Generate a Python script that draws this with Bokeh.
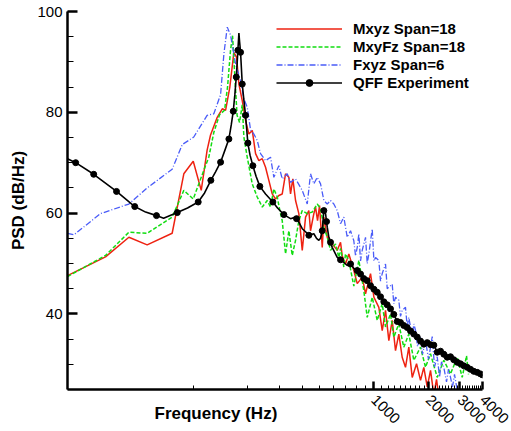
import numpy as np
from bokeh.plotting import figure
from bokeh.models import (Range1d, FixedTicker, Legend, LegendItem,
                          BasicTickFormatter, Title)
from bokeh.embed import file_html
from bokeh.resources import INLINE

# ---------------- data ----------------
mxyz_f = [20, 32.5, 43.8, 55.3, 76.1, 88.3, 99.6, 110.3, 118.9, 124.2, 135.3, 144.3,
          150.5, 158.9, 167.3, 173.2, 178.4, 186.2, 194.2, 202.6, 211.6, 220.7, 230.2,
          240.4, 250.7, 261.5, 273.1, 284.8, 297.1, 310.2, 323.6, 337.6, 344.9, 355.2,
          367.7, 383.5, 400.5, 417.8, 435.8, 445.2, 464.4, 474.6, 486.9, 499.5, 517.0,
          527.7, 551.1, 587.3, 626.0, 653.0, 667.3, 696.1, 726.1, 773.8, 808.2, 861.4,
          898.5, 957.6, 1000, 1064.9, 1111.8, 1159.8, 1209.9, 1263.1, 1317.6, 1374.4,
          1434.7, 1496.7, 1561.2, 1631, 1723.2, 1813, 1891, 1974.9, 2060, 2148.6,
          2224.2, 2281.9]
mxyz_psd = [47.6, 51.3, 55.2, 53.7, 56.0, 67.8, 70.3, 64.5, 72.5, 75.5, 79.0, 80.7,
            80.4, 85.0, 91.9, 90.9, 85.6, 82.3, 78.4, 75.7, 76.4, 71.8, 70.4, 70.8,
            69.1, 66.5, 63.8, 62.8, 63.5, 63.8, 67.8, 67.1, 63.8, 66.8, 62.5, 59.9,
            52.6, 59.2, 60.5, 56.5, 59.9, 61.2, 58.5, 61.5, 53.2, 59.2, 55.2, 53.9,
            52.6, 54.2, 51.5, 49.9, 51.9, 48.6, 46.0, 47.3, 44.0, 48.0, 43.3, 41.3,
            36.7, 40.7, 34.7, 38.7, 32.7, 36.0, 31.4, 29.4, 33.4, 27.4, 30.1, 26.8,
            29.4, 25.5, 28.8, 24.0, 27.0, 24.0]

mxyfz_f = [20, 32.5, 43.8, 55.3, 76.1, 88.3, 99.6, 114.0, 121.5, 129.5, 139.3, 148.5,
           154.3, 160.3, 164.5, 168.8, 174.3, 179.9, 186.2, 190.1, 198.4, 211.5, 225.4,
           240.4, 256.1, 267.2, 278.7, 291.1, 300.9, 310.2, 323.6, 337.6, 352.5, 367.7,
           383.5, 400.5, 426.9, 455.0, 485.0, 505.9, 527.7, 551.1, 574.7, 612.6, 639.1,
           653.0, 681.1, 696.1, 726.1, 773.8, 825.1, 879.2, 918.2, 978.6, 1043.1,
           1111.8, 1159.8, 1236, 1289.1, 1374.4, 1464.4, 1561.2, 1664.6, 1813, 1932.7,
           2060, 2244.0, 2440.6, 2659, 2896.5, 3087, 3262, 3346]
mxyfz_psd = [47.4, 51.6, 56.2, 56.0, 59.2, 64.5, 62.8, 68.5, 71.1, 76.0, 79.5, 80.4,
             85.0, 92.3, 95.2, 88.0, 79.4, 78.0, 81.5, 75.1, 71.1, 65.8, 63.2, 61.2,
             62.5, 61.2, 64.8, 63.2, 60.5, 58.5, 51.9, 56.5, 51.6, 54.6, 58.5, 60.5,
             59.9, 60.2, 61.8, 60.9, 57.2, 55.2, 52.6, 53.9, 51.2, 53.0, 49.3, 51.9,
             50.6, 45.5, 50.6, 44.6, 39.3, 43.3, 38.7, 42.0, 37.4, 40.0, 35.4, 38.0,
             33.4, 36.0, 30.8, 33.4, 29.4, 32.1, 27.4, 30.8, 28.1, 31.4, 27.4, 31.7, 28.0]

fxyz_f = [20, 21.7, 30.5, 43.8, 55.3, 76.1, 86.6, 100.3, 118.9, 129.5, 141.2, 147.3,
          153.8, 160.4, 171.0, 182.2, 190.0, 198.5, 207.0, 215.9, 225.5, 235.2, 250.7,
          267.2, 278.7, 297.1, 310.2, 330.7, 344.9, 367.7, 400.5, 426.9, 445.2, 464.4,
          485.0, 505.9, 527.7, 551.1, 574.7, 599.4, 626.0, 653.0, 681.1, 711.3, 741.9,
          773.8, 790.9, 808.2, 825.1, 842.9, 861.4, 898.5, 918.2, 937.3, 978.6, 1000,
          1020.8, 1064.9, 1088, 1111.8, 1159.8, 1185.2, 1209.9, 1263.1, 1289.1, 1317.6,
          1374.4, 1404, 1434.7, 1496.7, 1529.4, 1561.2, 1631, 1664.6, 1701.3, 1745.4,
          1813, 1860, 1932.7, 2008.3, 2105.1, 2167.9, 2244, 2311.3, 2370.2, 2440.6,
          2526.5, 2592, 2659, 2727.9, 2798.3, 2907.9]
fxyz_psd = [56.0, 55.7, 59.9, 61.8, 65.0, 68.7, 73.6, 75.1, 79.4, 79.7, 83.5, 91.6,
            96.9, 95.3, 89.6, 86.3, 82.7, 81.0, 76.5, 75.7, 74.4, 71.8, 70.4, 71.1,
            67.1, 69.4, 66.8, 67.8, 66.1, 66.8, 64.5, 61.8, 67.8, 65.8, 67.1, 65.8,
            62.5, 61.8, 62.5, 61.8, 60.5, 57.9, 59.2, 55.2, 56.5, 54.5, 51.5, 53.2,
            55.9, 50.5, 52.6, 55.2, 50.0, 51.9, 56.9, 50.5, 51.2, 50.6, 46.5, 48.0,
            49.9, 45.0, 45.3, 45.9, 42.0, 43.3, 42.7, 39.5, 40.7, 41.3, 37.5, 39.3,
            35.5, 38.0, 36.7, 33.5, 35.4, 32.0, 34.7, 31.0, 35.5, 29.5, 31.5, 27.5,
            30.5, 29.4, 26.5, 29.0, 27.4, 25.5, 28.0, 24.5]

exp_f = [20, 22.2, 27.95, 37.4, 47.2, 54.2, 62.3, 68.2, 81.2, 92.6, 106.1, 115.1,
         124.7, 132.4, 141.2, 148.6, 157.0, 161.8, 166.0, 169.4, 172.5, 174.3, 176.1,
         178.4, 180.0, 182.2, 186.2, 190.0, 194.2, 200.0, 205.7, 213.2, 222.1, 233.1,
         250.7, 275.2, 292.2, 316.7, 344.9, 367.7, 382.0, 400.5, 417.8, 435.8, 464.4,
         480.7, 495.1, 505.9, 517.0, 527.7, 539.3, 551.1, 562.6, 587.3, 626.0, 667.3,
         711.3, 741.9, 775, 808, 843, 879, 918, 958, 1000, 1043, 1088, 1135, 1185,
         1236, 1289, 1346, 1404, 1464, 1529, 1596, 1665, 1738, 1813, 1891, 1975, 2060,
         2149, 2244, 2340, 2441, 2549, 2659, 2773, 2897, 3021, 3151, 3291, 3432, 3580,
         3739, 3899, 4000]
exp_psd = [70.8, 70.0, 67.7, 64.3, 61.3, 60.2, 59.5, 59.0, 60.1, 61.0, 62.2, 64.0,
           66.5, 68.2, 70.1, 72.3, 74.7, 77.5, 80.2, 83.5, 87.0, 89.5, 92.3, 95.7,
           94.0, 91.9, 85.6, 82.5, 79.4, 73.9, 71.5, 69.4, 67.3, 65.3, 63.8, 62.2,
           61.0, 59.7, 58.9, 59.2, 58.3, 56.9, 56.3, 55.6, 55.9, 55.0, 54.6, 55.0,
           56.5, 60.5, 59.9, 57.2, 55.2, 53.2, 51.2, 50.5, 49.6, 49.9, 49.0, 48.6,
           47.9, 47.0, 46.6, 45.6, 44.9, 44.3, 43.4, 42.4, 41.8, 41.0, 39.9, 38.5,
           38.3, 37.7, 37.3, 36.6, 36.0, 35.4, 34.6, 34.0, 34.3, 33.9, 33.8, 32.4,
           32.6, 32.0, 31.4, 31.5, 30.9, 30.4, 30.1, 29.7, 29.4, 29.0, 28.6, 28.4,
           28.1, 27.9]
# frequencies where the experiment symbols sit (below ~840 Hz; above it every point)
exp_symbol_f_low = [22.2, 27.95, 37.4, 47.2, 62.3, 81.2, 106.1, 124.7, 141.2, 157.0,
                    166.0, 172.5, 176.1, 182.2, 186.2, 194.2, 200.0, 213.2, 233.1,
                    275.2, 316.7, 372.4, 435.8, 517.0, 527.7, 546.2, 574.7, 653.0,
                    741.9, 808.0]

series_labels = ["Mxyz Span=18", "MxyFz Span=18", "Fxyz Span=6", "QFF Experiment"]
x_title = "Frequency (Hz)"
y_title = "PSD (dB/Hz)"
x_ticks = [1000, 2000, 3000, 4000]
x_minor = list(range(100, 1000, 100)) + list(range(1100, 4000, 100))
y_ticks = [40, 60, 80, 100]
y_minor = list(range(25, 101, 5))

# ---------------- figure ----------------
FONT = "Liberation Sans"
p = figure(width=511, height=431, x_axis_type="log",
           x_range=Range1d(20, 4000), y_range=Range1d(25, 100),
           output_backend="svg", toolbar_location=None,
           min_border_left=67, min_border_right=29, min_border_top=11,
           min_border_bottom=42)
p.outline_line_color = None
p.grid.visible = False
p.background_fill_color = "white"
p.border_fill_color = "white"

r_red = p.line(mxyz_f, mxyz_psd, line_color="#ee2211", line_width=1.5)
r_green = p.line(mxyfz_f, mxyfz_psd, line_color="#11dd11", line_width=1.5,
                 line_dash="4 2")
r_blue = p.line(fxyz_f, fxyz_psd, line_color="#4a5cf8", line_width=1.3,
                line_dash="6 2 1 2")
r_black = p.line(exp_f, exp_psd, line_color="black", line_width=1.6)

sym_f = np.array(exp_symbol_f_low + [f for f in exp_f if f >= 840])
sym_psd = np.interp(np.log10(sym_f), np.log10(exp_f), exp_psd)
r_sym = p.scatter(sym_f, sym_psd, marker="circle", size=6, fill_color="black",
                  line_color="black")

# axes
xa = p.xaxis[0]
xa.ticker = FixedTicker(ticks=x_ticks, minor_ticks=x_minor)
xa.formatter = BasicTickFormatter(use_scientific=False)
xa.major_label_orientation = -np.pi / 4
ya = p.yaxis[0]
ya.ticker = FixedTicker(ticks=y_ticks, minor_ticks=y_minor)
for ax in (xa, ya):
    ax.axis_line_width = 2.5
    ax.axis_line_color = "black"
    ax.major_tick_line_width = 2.5
    ax.minor_tick_line_width = 1
    ax.major_tick_out = 0
    ax.minor_tick_out = 0
    ax.major_label_text_font = FONT
    ax.major_label_text_font_size = "15px"
    ax.major_label_text_color = "black"
    ax.major_label_standoff = 5
    ax.axis_label_text_font = FONT
    ax.axis_label_text_font_style = "bold"
    ax.axis_label_text_font_size = "17px"
    ax.axis_label_text_color = "black"
xa.major_tick_in = 8
xa.minor_tick_in = 4
xa.major_label_standoff = 8
ya.major_tick_in = 10
ya.minor_tick_in = 6

ya.axis_label = y_title
ya.axis_label_standoff = 6

# x title: left of centre, level with the slanted tick labels
xt = Title(text=x_title, align="left", offset=87, vertical_align="top",
           standoff=-56, text_font=FONT, text_font_style="bold",
           text_font_size="17px", text_color="black")
p.add_layout(xt, "below")

legend = Legend(items=[LegendItem(label=series_labels[0], renderers=[r_red]),
                       LegendItem(label=series_labels[1], renderers=[r_green]),
                       LegendItem(label=series_labels[2], renderers=[r_blue]),
                       LegendItem(label=series_labels[3], renderers=[r_black, r_sym])],
                location=(209, 298), orientation="vertical",
                glyph_width=66, glyph_height=17, label_height=17, spacing=1,
                padding=0, margin=0, label_standoff=11,
                border_line_alpha=0, background_fill_alpha=0,
                label_text_font=FONT, label_text_font_style="bold",
                label_text_font_size="15px", label_text_color="black")
p.add_layout(legend)

open("out.html", "w").write(file_html(p, INLINE))
